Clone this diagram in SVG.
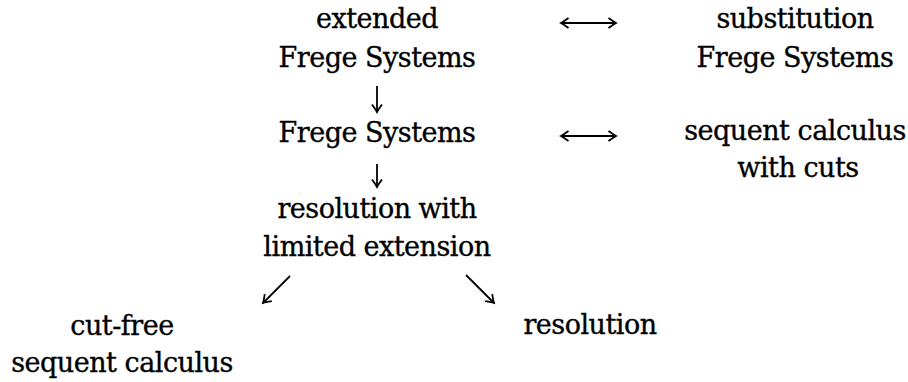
<svg xmlns="http://www.w3.org/2000/svg" width="908" height="382" viewBox="0 0 908 382">
<style>
text{font-family:"DejaVu Serif","Liberation Serif",serif;font-size:27px;letter-spacing:-0.5px;fill:#000;stroke:#000;stroke-width:0.35;text-anchor:middle}
.c line{stroke:#000;stroke-width:1.8;fill:none}
</style>
<defs>
<marker id="ah" viewBox="-9 -6 11 12" markerWidth="11" markerHeight="12" refX="0" refY="0" orient="auto-start-reverse" markerUnits="userSpaceOnUse">
<path d="M-7.5,-5 Q-2,-1 0,0 Q-2,1 -7.5,5" fill="none" stroke="#000" stroke-width="1.8"/>
</marker>
</defs>
<rect width="908" height="382" fill="#fff"/>
<g id="extended-frege"><text x="377" y="28">extended</text><text x="377" y="67">Frege Systems</text></g>
<g id="substitution-frege"><text x="795" y="28">substitution</text><text x="795" y="67">Frege Systems</text></g>
<g id="frege"><text x="377" y="142">Frege Systems</text></g>
<g id="sequent-cuts"><text x="795" y="140">sequent calculus</text><text x="798" y="177">with cuts</text></g>
<g id="resolution-limited"><text x="377" y="218">resolution with</text><text x="377" y="256">limited extension</text></g>
<g id="cutfree"><text x="122" y="335">cut-free</text><text x="122" y="372">sequent calculus</text></g>
<g id="resolution"><text x="590" y="334">resolution</text></g>
<g class="c" id="connectors">
<line x1="561" y1="23" x2="616" y2="23" marker-start="url(#ah)" marker-end="url(#ah)"/>
<line x1="561" y1="136" x2="616" y2="136" marker-start="url(#ah)" marker-end="url(#ah)"/>
<line x1="377" y1="86" x2="377" y2="112" marker-end="url(#ah)"/>
<line x1="377" y1="164" x2="377" y2="187" marker-end="url(#ah)"/>
<line x1="290" y1="276" x2="263" y2="303" marker-end="url(#ah)"/>
<line x1="466" y1="275" x2="494" y2="303" marker-end="url(#ah)"/>
</g>
</svg>
